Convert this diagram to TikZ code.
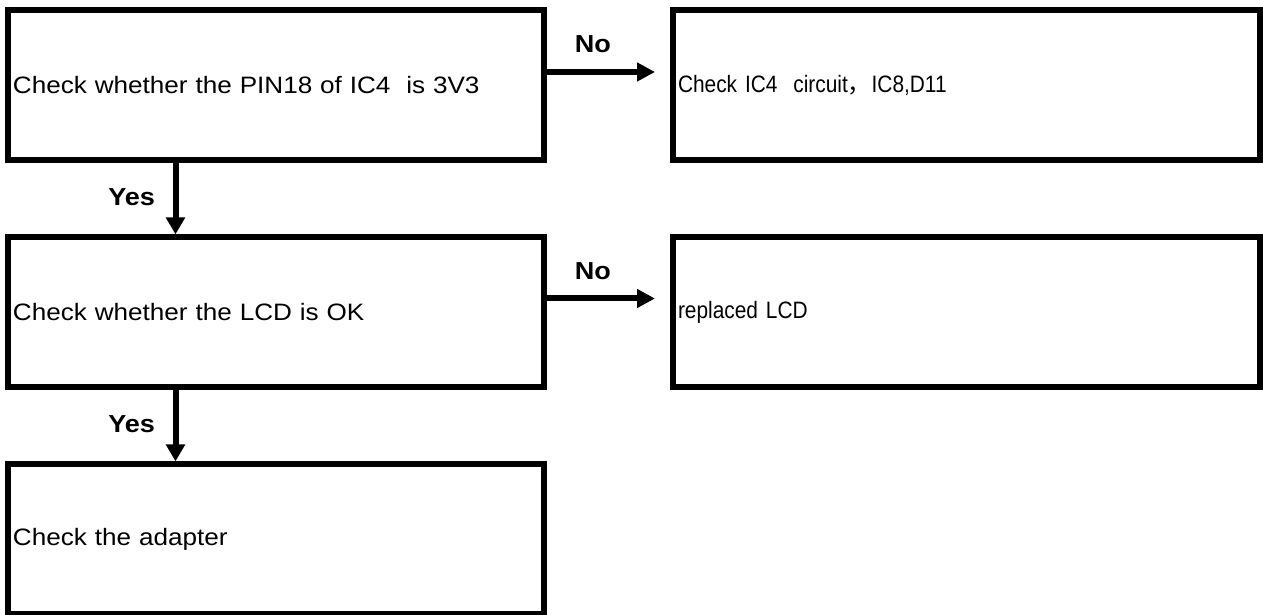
\documentclass[tikz,border=0pt]{standalone}
\usepackage{fontspec}
\setmainfont{Liberation Sans}
\newfontfamily\cjkfont{Noto Sans CJK SC}
\newfontfamily\wideFont[FakeStretch=1.1]{Liberation Sans}
\newfontfamily\narrowFont[FakeStretch=0.88]{Liberation Sans}
\usepackage{tikz}
\usetikzlibrary{arrows.meta,positioning}
\tikzset{
  stepbox/.style={draw=black, line width=0.12cm, rectangle, inner sep=0pt, inner xsep=0.1cm, outer sep=0pt,
    minimum height=3.0cm, align=left},
  leftbox/.style={stepbox, text width=10.52cm, font=\fontsize{13.5}{16}\wideFont},
  rightbox/.style={stepbox, text width=11.54cm, font=\fontsize{13.5}{16}\narrowFont},
  yesarrow/.style={-{Triangle[length=0.34cm,width=0.37cm]}, line width=0.12cm, draw=black, shorten >=1.5pt},
  noarrow/.style={-{Triangle[length=0.36cm,width=0.36cm]}, line width=0.12cm, draw=black},
  labelbold/.style={font=\fontsize{14}{16}\wideFont\bfseries, inner sep=0pt},
}
\begin{document}
\begin{tikzpicture}[x=1cm,y=1cm]
\path[use as bounding box] (0,0) rectangle (25.26,12.3);

% left column
\node[leftbox] (chk1) at (5.52,10.59) {Check whether the PIN18 of IC4\ \ is 3V3};
\node[leftbox] (chk2) at (5.52,6.06) {Check whether the LCD is OK};
\node[leftbox] (chk3) at (5.52,1.52) {Check the adapter};

% right column
\node[rightbox] (fix1) at (19.33,10.59) {Check IC4\ \ circuit{\cjkfont ，}IC8,D11};
\node[rightbox] (fix2) at (19.33,6.06) {replaced LCD};

% no branches
\draw[noarrow] ([yshift=0.27cm]chk1.east) -- ([yshift=0.27cm,xshift=-0.36cm]fix1.west)
  node[labelbold,pos=0.44,above=0.32cm] (no1) {No};
\draw[noarrow] ([yshift=0.27cm]chk2.east) -- ([yshift=0.27cm,xshift=-0.36cm]fix2.west)
  node[labelbold,pos=0.44,above=0.32cm] (no2) {No};

% yes branches
\draw[yesarrow] ([xshift=-2.01cm]chk1.south) -- ([xshift=-2.01cm]chk2.north)
  node[labelbold,pos=0.48,left=0.35cm] (yes1) {Yes};
\draw[yesarrow] ([xshift=-2.01cm]chk2.south) -- ([xshift=-2.01cm]chk3.north)
  node[labelbold,pos=0.48,left=0.35cm] (yes2) {Yes};
\end{tikzpicture}
\end{document}
